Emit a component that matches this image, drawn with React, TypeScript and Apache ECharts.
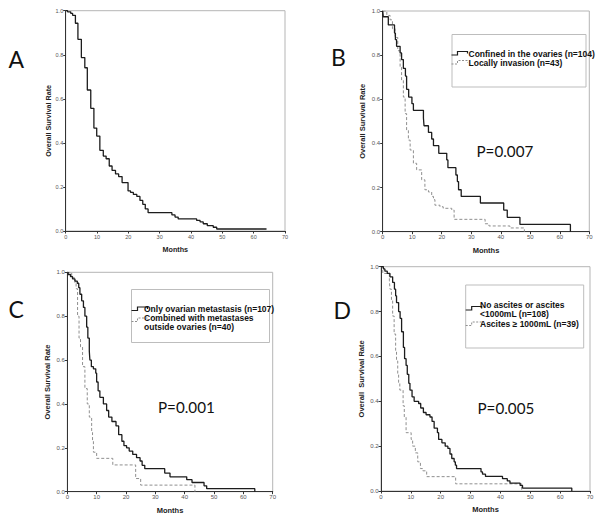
import React, { useEffect, useRef } from "react";
import * as echarts from "echarts";

// Axis ticks
const monthTicks = [0, 10, 20, 30, 40, 50, 60, 70];
const rateTicks = [0, 0.2, 0.4, 0.6, 0.8, 1.0];

// Panel A – all patients
const aTimes = [0, 0.6, 1.6, 2.2, 3.1, 3.9, 5.0, 6.1, 6.9, 8.0, 9.0, 9.9, 10.9, 12.0, 12.9, 13.9, 14.8, 15.9, 16.9, 18.0, 19.9, 20.7, 21.6, 22.7, 23.7, 24.6, 25.4, 26.3, 33.9, 34.9, 35.9, 41.8, 42.9, 43.9, 45.2, 47.1, 48.2, 64.1];
const aSurv = [1.0, 0.995, 0.988, 0.979, 0.943, 0.87, 0.787, 0.741, 0.64, 0.557, 0.467, 0.431, 0.366, 0.34, 0.328, 0.295, 0.275, 0.259, 0.247, 0.22, 0.182, 0.175, 0.166, 0.157, 0.139, 0.121, 0.1, 0.083, 0.073, 0.063, 0.055, 0.048, 0.041, 0.033, 0.024, 0.017, 0.009, 0.009];

// Panel B
const bSolidTimes = [0, 0.2, 1.9, 4.0, 4.3, 4.7, 5.9, 6.4, 7.0, 7.7, 8.1, 8.8, 9.9, 10.4, 13.8, 14.0, 15.5, 16.6, 17.2, 19.0, 21.7, 22.1, 24.8, 25.3, 25.7, 26.6, 33.1, 41.0, 42.2, 46.5, 63.6, 63.6];
const bSolidSurv = [1.0, 0.974, 0.937, 0.9, 0.87, 0.84, 0.81, 0.78, 0.74, 0.705, 0.645, 0.61, 0.58, 0.55, 0.515, 0.48, 0.45, 0.42, 0.39, 0.355, 0.325, 0.29, 0.257, 0.227, 0.19, 0.16, 0.13, 0.098, 0.065, 0.033, 0.033, 0];
const bDashTimes = [0, 1.4, 2.5, 3.3, 4.2, 5.1, 5.9, 6.4, 7.0, 7.6, 8.1, 8.7, 9.3, 10.4, 11.5, 13.2, 14.3, 15.5, 16.6, 17.2, 17.7, 19.4, 20.5, 23.4, 24.2, 34.7, 36.0, 43.1, 48.0, 48.0];
const bDashSurv = [1.0, 0.98, 0.96, 0.92, 0.88, 0.82, 0.746, 0.686, 0.61, 0.535, 0.46, 0.415, 0.37, 0.31, 0.28, 0.235, 0.19, 0.18, 0.16, 0.145, 0.12, 0.113, 0.106, 0.098, 0.056, 0.036, 0.026, 0.017, 0.017, 0];

// Panel C
const cSolidTimes = [0, 0.3, 1.1, 1.8, 2.6, 3.4, 3.9, 4.3, 4.9, 5.5, 6.0, 6.6, 7.0, 7.5, 7.7, 8.2, 8.9, 9.7, 10.0, 10.5, 11.1, 12.3, 13.4, 14.1, 15.2, 16.6, 17.5, 18.6, 19.3, 20.2, 21.1, 22.3, 23.6, 24.8, 25.5, 26.4, 33.2, 35.0, 40.7, 42.5, 46.6, 47.5, 63.9, 63.9];
const cSolidSurv = [1.0, 0.99, 0.98, 0.97, 0.96, 0.95, 0.93, 0.9, 0.87, 0.84, 0.8, 0.75, 0.7, 0.64, 0.6, 0.57, 0.56, 0.54, 0.5, 0.46, 0.43, 0.4, 0.37, 0.34, 0.32, 0.3, 0.26, 0.23, 0.21, 0.2, 0.185, 0.17, 0.155, 0.14, 0.12, 0.105, 0.085, 0.068, 0.055, 0.042, 0.027, 0.014, 0.014, 0];
const cDashTimes = [0, 1.5, 2.6, 3.0, 3.5, 4.0, 4.5, 5.2, 6.0, 6.8, 7.5, 8.3, 8.6, 8.9, 10.0, 15.5, 23.3, 25.0, 43.5, 43.5];
const cDashSurv = [1.0, 0.975, 0.95, 0.925, 0.8, 0.7, 0.66, 0.57, 0.47, 0.4, 0.34, 0.27, 0.23, 0.18, 0.152, 0.122, 0.06, 0.03, 0.03, 0];

// Panel D
const dSolidTimes = [0, 0.8, 1.3, 2.1, 3.0, 3.9, 4.5, 4.9, 5.2, 5.9, 6.4, 6.9, 7.5, 7.9, 8.4, 8.8, 9.3, 9.7, 10.4, 11.1, 12.6, 13.3, 14.2, 15.1, 16.4, 17.1, 17.8, 18.9, 19.3, 20.4, 21.5, 22.4, 23.1, 23.7, 24.5, 24.9, 25.3, 33.5, 34.0, 35.0, 40.7, 42.3, 43.2, 46.6, 47.4, 63.9, 63.9];
const dSolidSurv = [1.0, 0.99, 0.98, 0.97, 0.955, 0.93, 0.9, 0.87, 0.84, 0.8, 0.77, 0.71, 0.64, 0.59, 0.56, 0.52, 0.48, 0.45, 0.42, 0.4, 0.39, 0.37, 0.35, 0.34, 0.33, 0.31, 0.28, 0.26, 0.23, 0.215, 0.2, 0.19, 0.165, 0.145, 0.13, 0.115, 0.1, 0.085, 0.075, 0.065, 0.055, 0.045, 0.035, 0.025, 0.013, 0.013, 0];
const dDashTimes = [0, 0.6, 2.8, 3.0, 3.5, 3.9, 4.4, 4.9, 5.2, 5.6, 5.9, 6.3, 7.4, 7.8, 8.4, 10.1, 10.6, 11.5, 12.3, 13.2, 14.0, 15.3, 25.0, 47.1, 47.1];
const dDashSurv = [1.0, 0.97, 0.94, 0.9, 0.85, 0.78, 0.7, 0.62, 0.58, 0.52, 0.48, 0.45, 0.38, 0.33, 0.26, 0.23, 0.2, 0.17, 0.13, 0.1, 0.09, 0.064, 0.032, 0.032, 0];

const panelLetters = ["A", "B", "C", "D"];
const pValues = ["", "P=0.007", "P=0.001", "P=0.005"];
const yTitles = ["Overall Survival Rate", "Overall Survival Rate", "Overall Survival Rate", "Overall  Survival Rate"];
const xTitle = "Months";

const zip = (t: number[], s: number[]) => t.map((v, i) => [v, s[i]]);

const TEXT_FONT = "Liberation Sans, Arial, sans-serif";
const BIG_FONT = "Lato, Liberation Sans, Arial, sans-serif";

export default function App() {
  const ref = useRef<HTMLDivElement>(null);

  useEffect(() => {
    if (!ref.current) return;
    const chart = echarts.init(ref.current, undefined, { renderer: "svg" });

    const grids = [
      { left: 65.7, top: 10.7, width: 219.3, height: 220.3 },
      { left: 382.7, top: 11, width: 206.6, height: 220.7 },
      { left: 67.3, top: 272.3, width: 205.4, height: 219.4 },
      { left: 381, top: 266.7, width: 209, height: 224.3 },
    ];
    const tickFont = [5.5, 6, 6, 6];
    const yGap = [10, 16, 15.5, 16];
    const titleFont = [7.2, 7.5, 7.5, 7.5];

    const xAxes = grids.map((_, i) => ({
      type: "value",
      gridIndex: i,
      min: monthTicks[0],
      max: monthTicks[monthTicks.length - 1],
      interval: 10,
      axisLine: { lineStyle: { color: "#333", width: 1 } },
      axisTick: { show: true, length: 2.5, lineStyle: { color: "#333" } },
      axisLabel: { fontSize: tickFont[i], color: "#555", margin: 2.5, fontFamily: TEXT_FONT },
      splitLine: { show: false },
      name: xTitle,
      nameLocation: "middle",
      nameGap: 14.5,
      nameTextStyle: { fontSize: titleFont[i], fontWeight: "bold", color: "#222", fontFamily: TEXT_FONT },
    }));
    const yAxes = grids.map((_, i) => ({
      type: "value",
      gridIndex: i,
      min: rateTicks[0],
      max: rateTicks[rateTicks.length - 1],
      interval: 0.2,
      axisLine: { lineStyle: { color: "#333", width: 1 } },
      axisTick: { show: true, length: 2.5, lineStyle: { color: "#333" } },
      axisLabel: {
        fontSize: tickFont[i],
        color: "#555",
        margin: 2.5,
        fontFamily: TEXT_FONT,
        formatter: (v: number) => v.toFixed(1),
      },
      splitLine: { show: false },
      name: yTitles[i],
      nameLocation: "middle",
      nameGap: yGap[i],
      nameTextStyle: { fontSize: titleFont[i], fontWeight: "bold", color: "#222", fontFamily: TEXT_FONT },
    }));

    const solid = { color: "#1c1c1c", width: 1.3, type: "solid" };
    const dashed = { color: "#8f8f8f", width: 1, type: [3, 2] };
    const mk = (idx: number, data: number[][], ls: any) => ({
      type: "line",
      xAxisIndex: idx,
      yAxisIndex: idx,
      data,
      step: "end",
      showSymbol: false,
      symbol: "none",
      lineStyle: ls,
      z: ls === solid ? 3 : 2,
    });

    const series = [
      mk(0, zip(aTimes, aSurv), solid),
      mk(1, zip(bDashTimes, bDashSurv), dashed),
      mk(1, zip(bSolidTimes, bSolidSurv), solid),
      mk(2, zip(cDashTimes, cDashSurv), dashed),
      mk(2, zip(cSolidTimes, cSolidSurv), solid),
      mk(3, zip(dDashTimes, dDashSurv), dashed),
      mk(3, zip(dSolidTimes, dSolidSurv), solid),
    ];

    const letterPos = [
      [8.5, 47],
      [331, 45.5],
      [8.5, 297],
      [333.5, 298],
    ];
    const pPos = [
      [0, 0],
      [476.5, 151],
      [158, 406.5],
      [477.5, 408],
    ];

    const solidIcon = (x: number, y: number) => ({
      type: "polyline",
      shape: { points: [[x, y + 1.5], [x + 6, y + 1.5], [x + 6, y - 2], [x + 16, y - 2], [x + 16, y]] },
      style: { stroke: "#1c1c1c", fill: null, lineWidth: 1.2 },
      z: 20,
    });
    const dashIcon = (x: number, y: number) => ({
      type: "polyline",
      shape: { points: [[x, y + 1.5], [x + 6, y + 1.5], [x + 6, y - 2], [x + 16, y - 2], [x + 16, y]] },
      style: { stroke: "#8f8f8f", fill: null, lineWidth: 1, lineDash: [2, 1.5] },
      z: 20,
    });
    const ltext = (x: number, y: number, t: string, lh = 8.8, va = "middle") => ({
      type: "text",
      x,
      y,
      z: 21,
      style: {
        text: t,
        fontSize: 8.5,
        lineHeight: lh,
        fontWeight: "bold",
        fontFamily: TEXT_FONT,
        fill: "#111",
        align: "left",
        verticalAlign: va,
      },
    });
    const box = (x: number, y: number, w: number, h: number) => ({
      type: "rect",
      shape: { x, y, width: w, height: h },
      style: { fill: "#fff", stroke: "#bdbdbd", lineWidth: 1 },
      z: 19,
    });

    const graphic: any[] = [];
    panelLetters.forEach((l, i) => {
      graphic.push({
        type: "text",
        x: letterPos[i][0],
        y: letterPos[i][1],
        style: { text: l, fontSize: 23, fontFamily: BIG_FONT, fill: "#111", align: "left", verticalAlign: "alphabetic" },
        z: 30,
      });
      if (pValues[i]) {
        graphic.push({
          type: "text",
          x: pPos[i][0],
          y: pPos[i][1],
          style: { text: pValues[i], fontSize: 15.2, fontFamily: BIG_FONT, fill: "#111", align: "left", verticalAlign: "middle" },
          z: 30,
        });
      }
    });

    // Legend B
    graphic.push(box(452, 34.5, 134, 52.5));
    graphic.push(solidIcon(451.5, 53.5));
    graphic.push(ltext(468.5, 53.5, "Confined in the ovaries (n=104)"));
    graphic.push(dashIcon(451.5, 62.5));
    graphic.push(ltext(468.5, 62.5, "Locally invasion (n=43)"));

    // Legend C
    graphic.push(box(131.5, 289.5, 138, 53));
    graphic.push(solidIcon(131.5, 309));
    graphic.push(ltext(144, 309, "Only ovarian metastasis (n=107)"));
    graphic.push(dashIcon(131.5, 320));
    graphic.push(ltext(144, 314, "Combined with metastases\noutside ovaries (n=40)", 8.8, "top"));

    // Legend D
    graphic.push(box(465.7, 285, 118, 63));
    graphic.push(solidIcon(465.7, 308.5));
    graphic.push(ltext(480, 300.5, "No ascites or ascites\n<1000mL (n=108)", 8.8, "top"));
    graphic.push(dashIcon(465.7, 324));
    graphic.push(ltext(480, 324, "Ascites \u2265 1000mL (n=39)"));

    chart.setOption({
      animation: false,
      backgroundColor: "#ffffff",
      grid: grids.map((g) => ({ ...g, show: true, borderColor: "#b5b5b5", borderWidth: 1, backgroundColor: "transparent", containLabel: false })),
      xAxis: xAxes,
      yAxis: yAxes,
      series,
      graphic,
    } as any);

    return () => chart.dispose();
  }, []);

  return (
    <div
      ref={ref}
      style={{ position: "fixed", left: 0, top: 0, width: 600, height: 526, background: "#fff" }}
    />
  );
}
